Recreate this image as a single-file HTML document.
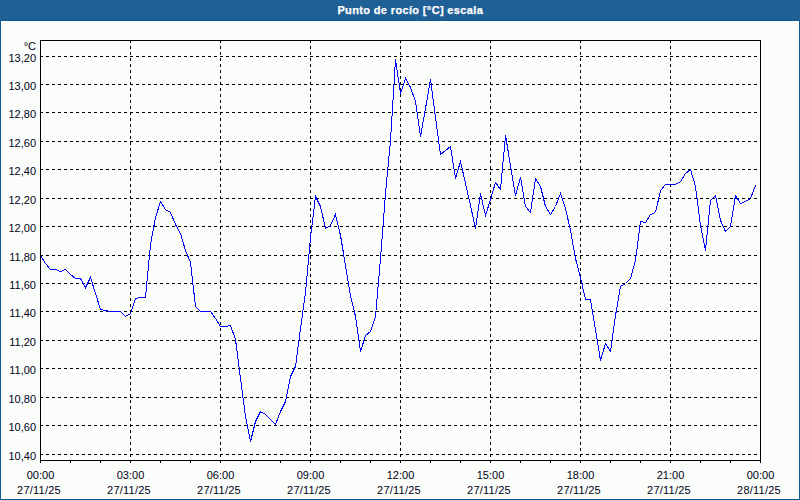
<!DOCTYPE html>
<html><head><meta charset="utf-8"><style>
html,body{margin:0;padding:0;width:800px;height:500px;overflow:hidden;background:#fbfdfb;}
svg{display:block;}
text{font-family:"Liberation Sans",sans-serif;font-size:11px;fill:#000018;}
.t{font-weight:bold;fill:#ffffff;font-size:11px;letter-spacing:0.36px;stroke:#fff;stroke-width:0.25px;}
</style></head><body>
<svg width="800" height="500" viewBox="0 0 800 500">
<rect x="0" y="0" width="800" height="500" fill="#fbfdfb"/>
<defs><pattern id="dp" x="0" y="0" width="8" height="20" patternUnits="userSpaceOnUse"><g fill="#2660ae" shape-rendering="crispEdges"><rect x="0" y="0" width="1" height="1"/><rect x="4" y="1" width="1" height="1"/><rect x="2" y="2" width="1" height="1"/><rect x="7" y="2" width="1" height="1"/><rect x="3" y="4" width="1" height="1"/><rect x="0" y="5" width="1" height="1"/><rect x="5" y="5" width="1" height="1"/><rect x="3" y="7" width="1" height="1"/><rect x="7" y="8" width="1" height="1"/><rect x="1" y="9" width="1" height="1"/><rect x="5" y="9" width="1" height="1"/><rect x="0" y="11" width="1" height="1"/><rect x="4" y="11" width="1" height="1"/><rect x="2" y="13" width="1" height="1"/><rect x="6" y="13" width="1" height="1"/><rect x="1" y="15" width="1" height="1"/><rect x="5" y="15" width="1" height="1"/><rect x="0" y="17" width="1" height="1"/><rect x="4" y="17" width="1" height="1"/><rect x="2" y="19" width="1" height="1"/><rect x="6" y="19" width="1" height="1"/></g></pattern></defs>
<rect x="0" y="0" width="800" height="20" fill="#1f6093"/>
<rect x="0" y="0" width="800" height="20" fill="url(#dp)"/>
<rect x="0" y="20" width="800" height="1" fill="#0f5893"/>
<rect x="0" y="21" width="1" height="479" fill="#0f5893"/>
<rect x="799" y="21" width="1" height="479" fill="#0f5893"/>
<rect x="0" y="499" width="800" height="1" fill="#0f5893"/>
<rect x="1" y="21" width="798" height="1" fill="#ffffff"/>
<rect x="1" y="498" width="798" height="1" fill="#ffffff"/>
<rect x="1" y="21" width="1" height="478" fill="#ffffff"/>
<rect x="798" y="21" width="1" height="478" fill="#ffffff"/>
<text class="t" x="410.3" y="14" text-anchor="middle">Punto de roc&#237;o [&#176;C] escala</text>
<g shape-rendering="crispEdges" stroke="#000" stroke-width="1" fill="none">
<path d="M40 56.5H760 M40 84.5H760 M40 112.5H760 M40 141.5H760 M40 169.5H760 M40 198.5H760 M40 226.5H760 M40 255.5H760 M40 283.5H760 M40 311.5H760 M40 340.5H760 M40 368.5H760 M40 397.5H760 M40 425.5H760 M40 454.5H760 M130.5 40V460 M220.5 40V460 M310.5 40V460 M400.5 40V460 M490.5 40V460 M580.5 40V460 M670.5 40V460" stroke-dasharray="3 3"/>
</g>
<polyline points="40.5,255.5 45.5,263.5 50.5,269.5 55.5,269.5 60.5,271.5 65.5,269.5 70.5,274.5 75.5,278.5 80.5,278.5 85.5,287.5 90.5,277.5 95.5,293.5 100.5,309.5 105.5,310.5 110.5,311.5 115.5,311.5 120.5,311.5 125.5,316.5 130.5,313.5 135.5,298.5 140.5,297.5 145.5,297.5 150.5,244.5 155.5,217.5 160.5,201.5 165.5,209.5 170.5,212.5 175.5,224.5 180.5,233.5 185.5,250.5 190.5,262.5 195.5,306.5 200.5,311.5 205.5,311.5 210.5,311.5 215.5,318.5 220.5,326.5 225.5,326.5 230.5,325.5 235.5,339.5 240.5,378.5 245.5,416.5 250.5,441.5 255.5,421.5 260.5,411.5 265.5,414.5 270.5,419.5 275.5,424.5 280.5,411.5 285.5,401.5 290.5,376.5 295.5,366.5 300.5,328.5 305.5,292.5 310.5,237.5 315.5,196.5 320.5,206.5 325.5,228.5 330.5,225.5 335.5,214.5 340.5,235.5 345.5,265.5 350.5,295.5 355.5,316.5 360.5,351.5 365.5,335.5 370.5,331.5 375.5,316.5 380.5,258.5 385.5,193.5 390.5,140.5 395.5,59.5 400.5,93.5 405.5,78.5 410.5,87.5 415.5,101.5 420.5,136.5 425.5,108.5 430.5,79.5 435.5,117.5 440.5,154.5 445.5,150.5 450.5,146.5 455.5,178.5 460.5,161.5 465.5,183.5 470.5,205.5 475.5,228.5 480.5,193.5 485.5,215.5 490.5,199.5 495.5,182.5 500.5,189.5 505.5,135.5 510.5,165.5 515.5,195.5 520.5,177.5 525.5,206.5 530.5,212.5 535.5,178.5 540.5,186.5 545.5,206.5 550.5,214.5 555.5,206.5 560.5,193.5 565.5,208.5 570.5,230.5 575.5,258.5 580.5,277.5 585.5,299.5 590.5,299.5 595.5,329.5 600.5,360.5 605.5,343.5 610.5,351.5 615.5,315.5 620.5,286.5 625.5,283.5 630.5,278.5 635.5,260.5 640.5,221.5 645.5,222.5 650.5,214.5 655.5,212.5 660.5,190.5 665.5,184.5 670.5,184.5 675.5,184.5 680.5,181.5 685.5,173.5 690.5,169.5 695.5,186.5 700.5,225.5 705.5,250.5 710.5,200.5 715.5,195.5 720.5,220.5 725.5,231.5 730.5,226.5 735.5,195.5 740.5,203.5 745.5,201.5 750.5,198.5 755.5,185.5" fill="none" stroke="#0000ff" stroke-width="1" shape-rendering="crispEdges"/>
<g shape-rendering="crispEdges" stroke="#000" stroke-width="1" fill="none">
<path d="M40.5 40V463 M40 40.5H761 M760.5 40V463 M40 460.5H761"/>
<path d="M40.5 460V463 M70.5 460V463 M100.5 460V463 M130.5 460V463 M160.5 460V463 M190.5 460V463 M220.5 460V463 M250.5 460V463 M280.5 460V463 M310.5 460V463 M340.5 460V463 M370.5 460V463 M400.5 460V463 M430.5 460V463 M460.5 460V463 M490.5 460V463 M520.5 460V463 M550.5 460V463 M580.5 460V463 M610.5 460V463 M640.5 460V463 M670.5 460V463 M700.5 460V463 M730.5 460V463 M760.5 460V463"/>
</g>
<text x="36" y="50" text-anchor="end">&#176;C</text>
<text x="36" y="62" text-anchor="end">13,20</text><text x="36" y="90" text-anchor="end">13,00</text><text x="36" y="118" text-anchor="end">12,80</text><text x="36" y="147" text-anchor="end">12,60</text><text x="36" y="175" text-anchor="end">12,40</text><text x="36" y="204" text-anchor="end">12,20</text><text x="36" y="232" text-anchor="end">12,00</text><text x="36" y="261" text-anchor="end">11,80</text><text x="36" y="289" text-anchor="end">11,60</text><text x="36" y="317" text-anchor="end">11,40</text><text x="36" y="346" text-anchor="end">11,20</text><text x="36" y="374" text-anchor="end">11,00</text><text x="36" y="403" text-anchor="end">10,80</text><text x="36" y="431" text-anchor="end">10,60</text><text x="36" y="460" text-anchor="end">10,40</text>
<text x="40.5" y="479" text-anchor="middle">00:00</text><text x="39.0" y="494" text-anchor="middle" style="letter-spacing:0.22px">27/11/25</text><text x="130.5" y="479" text-anchor="middle">03:00</text><text x="129.0" y="494" text-anchor="middle" style="letter-spacing:0.22px">27/11/25</text><text x="220.5" y="479" text-anchor="middle">06:00</text><text x="219.0" y="494" text-anchor="middle" style="letter-spacing:0.22px">27/11/25</text><text x="310.5" y="479" text-anchor="middle">09:00</text><text x="309.0" y="494" text-anchor="middle" style="letter-spacing:0.22px">27/11/25</text><text x="400.5" y="479" text-anchor="middle">12:00</text><text x="399.0" y="494" text-anchor="middle" style="letter-spacing:0.22px">27/11/25</text><text x="490.5" y="479" text-anchor="middle">15:00</text><text x="489.0" y="494" text-anchor="middle" style="letter-spacing:0.22px">27/11/25</text><text x="580.5" y="479" text-anchor="middle">18:00</text><text x="579.0" y="494" text-anchor="middle" style="letter-spacing:0.22px">27/11/25</text><text x="670.5" y="479" text-anchor="middle">21:00</text><text x="669.0" y="494" text-anchor="middle" style="letter-spacing:0.22px">27/11/25</text><text x="760.5" y="479" text-anchor="middle">00:00</text><text x="759.0" y="494" text-anchor="middle" style="letter-spacing:0.22px">28/11/25</text>
</svg>
</body></html>
